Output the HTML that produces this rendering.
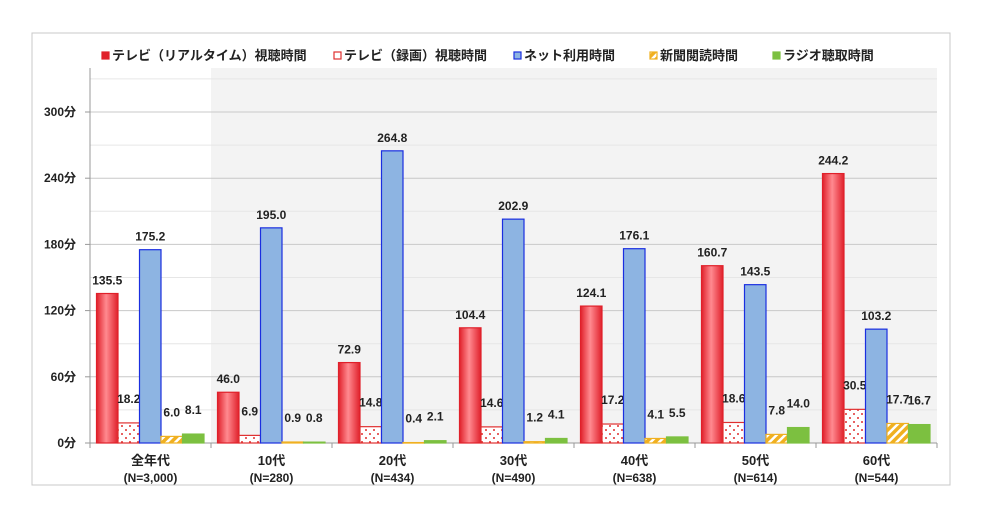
<!DOCTYPE html>
<html><head><meta charset="utf-8"><style>
body{margin:0;background:#fff;}
svg{display:block;font-family:"Liberation Sans","Noto Sans CJK JP",sans-serif;}
</style></head><body>
<svg id="chart" width="984" height="515" viewBox="0 0 984 515">
<defs>
<linearGradient id="gRed" x1="0" x2="1"><stop offset="0" stop-color="#e0202a"/><stop offset="0.45" stop-color="#ff8a90"/><stop offset="1" stop-color="#e0202a"/></linearGradient>
<pattern id="pDots" width="8" height="8" patternUnits="userSpaceOnUse"><rect width="8" height="8" fill="#fff"/><circle cx="2" cy="2" r="1" fill="#e03030"/><circle cx="6" cy="6" r="1" fill="#e03030"/></pattern>
<pattern id="pStripe" width="6" height="6" patternUnits="userSpaceOnUse" patternTransform="rotate(45)"><rect width="6" height="6" fill="#fff"/><rect width="3.5" height="6" fill="#f0b020"/></pattern>
</defs>
<rect x="32" y="33" width="918" height="452" fill="#fff" stroke="#c8c8c8"/>
<g id="plot"></g>
<g id="legend" font-size="13" font-weight="bold" fill="#222"></g>
</svg>
<script>
const categories=["全年代","10代","20代","30代","40代","50代","60代"];
const sampleSizes=["(N=3,000)","(N=280)","(N=434)","(N=490)","(N=638)","(N=614)","(N=544)"];
const tvRealtime=[135.5,46.0,72.9,104.4,124.1,160.7,244.2];
const tvRecorded=[18.2,6.9,14.8,14.6,17.2,18.6,30.5];
const netUse=[175.2,195.0,264.8,202.9,176.1,143.5,103.2];
const newspaper=[6.0,0.9,0.4,1.2,4.1,7.8,17.7];
const radio=[8.1,0.8,2.1,4.1,5.5,14.0,16.7];
const yTicks=[0,60,120,180,240,300];
const seriesNames=["テレビ（リアルタイム）視聴時間","テレビ（録画）視聴時間","ネット利用時間","新聞閲読時間","ラジオ聴取時間"];

const NS="http://www.w3.org/2000/svg";
const plot=document.getElementById('plot');
const X0=90,X1=937,Y0=443,YT=68;
const yMax=300,yPix=331;
const y=v=>Y0-v/yMax*yPix;
const gw=(X1-X0)/categories.length;
const bw=21.5;
function mk(tag,attrs,parent){const e=document.createElementNS(NS,tag);for(const k in attrs)e.setAttribute(k,attrs[k]);(parent||plot).appendChild(e);return e;}

let bg=mk('rect',{x:X0+gw,y:YT,width:X1-X0-gw,height:Y0-YT,fill:'#f3f3f3'});


for(let v=30;v<=330;v+=30){
  if(y(v)<YT)continue;
  let l=mk('line',{x1:X0,x2:X1,y1:y(v),y2:y(v),stroke:v%60===0?'#c8c8c8':'#e6e6e6'});
  
  
}
yTicks.forEach(t=>{
  let tx=mk('text',{x:X0-14,y:y(t)+4,'text-anchor':'end','font-size':12,'font-weight':'bold',fill:'#222'});
  tx.textContent=t+'分';
  
  
  mk('line',{x1:X0-5,x2:X0,y1:y(t),y2:y(t),stroke:'#999'});
});
let ax=mk('line',{x1:X0,x2:X0,y1:YT,y2:Y0+5,stroke:'#999'});


let xa=mk('line',{x1:X0,x2:X1,y1:Y0,y2:Y0,stroke:'#999'});



const series=[
 {d:tvRealtime,fill:'url(#gRed)',stroke:'#e0202a',name:'bar-tv-realtime'},
 {d:tvRecorded,fill:'url(#pDots)',stroke:'#e03030',name:'bar-tv-recorded'},
 {d:netUse,fill:'#8db4e2',stroke:'#1a2ee0',name:'bar-net-use'},
 {d:newspaper,fill:'url(#pStripe)',stroke:'#f0b020',name:'bar-newspaper'},
 {d:radio,fill:'#7cc040',stroke:'#7cc040',name:'bar-radio'}
];
categories.forEach((c,i)=>{
  const gx=X0+i*gw;
  mk('line',{x1:gx+gw,x2:gx+gw,y1:Y0,y2:Y0+5,stroke:'#999'});
  series.forEach((s,j)=>{
    const v=s.d[i],bx=gx+6.5+j*bw,by=y(v);
    let r=mk('rect',{x:bx,y:by,width:bw,height:Math.max(Y0-by,0.5),fill:s.fill,stroke:s.stroke,'stroke-width':1.2});
    
    
    let lab=mk('text',{x:bx+bw/2,y:by-(j===1?20:j>=3?20:9),'text-anchor':'middle','font-size':12,'font-weight':'bold',fill:'#222'});
    lab.textContent=v.toFixed(1);
    
    
  });
  let cl=mk('text',{x:gx+gw/2,y:465,'text-anchor':'middle','font-size':13,'font-weight':'bold',fill:'#222'});
  cl.textContent=c;
  
  
  let nl=mk('text',{x:gx+gw/2,y:482,'text-anchor':'middle','font-size':12,'font-weight':'bold',fill:'#222'});
  nl.textContent=sampleSizes[i];
  
  
});

const leg=document.getElementById('legend');
const legX=[102,334,514,650,773];
const legFill=['#e0202a','#fff','#8db4e2','url(#pStripe)','#7cc040'];
const legStroke=['#e0202a','#e03030','#1a2ee0','#f0b020','#7cc040'];
seriesNames.forEach((n,i)=>{
  let g=mk('g',{},leg);
  
  
  mk('rect',{x:legX[i],y:52,width:7,height:7,fill:legFill[i],stroke:legStroke[i],'stroke-width':1.2},g);
  let t=mk('text',{x:legX[i]+10,y:60},g);
  t.textContent=n;
});
</script>
</body></html>
